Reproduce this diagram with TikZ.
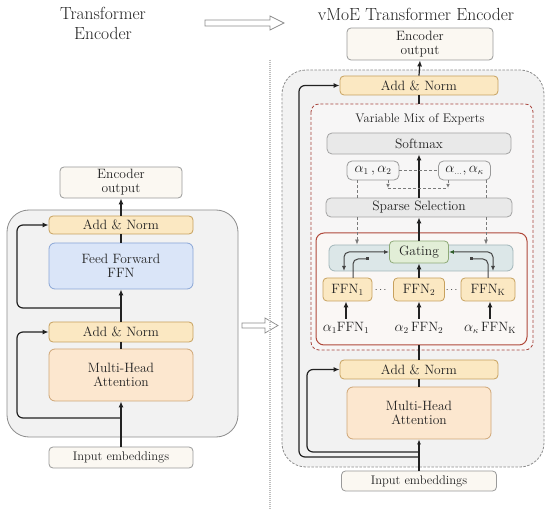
\documentclass[tikz,border=0pt]{standalone}
\usepackage{amsmath}
\usepackage{tikz}
\usetikzlibrary{arrows.meta,calc,positioning}
\definecolor{inkdark}{HTML}{222222}
\definecolor{normfill}{HTML}{FBE8C2}
\definecolor{normline}{HTML}{C7A15E}
\definecolor{mhafill}{HTML}{FCE7CF}
\definecolor{mhaline}{HTML}{CFA676}
\definecolor{ffnfill}{HTML}{DAE5F8}
\definecolor{ffnline}{HTML}{8AA6D6}
\definecolor{iofill}{HTML}{FBF8F2}
\definecolor{ioline}{HTML}{9A9A9A}
\definecolor{panelfill}{HTML}{F2F2F2}
\definecolor{panelline}{HTML}{8C8C8C}
\definecolor{softfill}{HTML}{E9E9E9}
\definecolor{softgrey}{HTML}{A3A3A3}
\definecolor{moeline}{HTML}{A8453D}
\definecolor{moefill}{HTML}{F7F6F6}
\definecolor{expline}{HTML}{B0483A}
\definecolor{expfill}{HTML}{FAF7F5}
\definecolor{bandfill}{HTML}{DCE7E8}
\definecolor{bandline}{HTML}{A2B6BA}
\definecolor{gatefill}{HTML}{E2EED7}
\definecolor{gateline}{HTML}{8EAA78}
\definecolor{gatetip}{HTML}{2F5E2A}
\definecolor{dashgrey}{HTML}{7A7A7A}
\newcommand{\lblfont}{\fontsize{13.5}{14}\selectfont}
\newcommand{\ttlfont}{\fontsize{17.5}{20}\selectfont}
\newcommand{\inpfont}{\fontsize{12.5}{14}\selectfont}

\tikzset{
  blk/.style={draw, rounded corners=4pt, line width=0.8pt, inner sep=0pt,
    align=center, font=\lblfont, text=inkdark},
  addnorm/.style={blk, draw=normline, fill=normfill, minimum width=144pt, minimum height=19pt},
  ffnbox/.style={blk, draw=ffnline, fill=ffnfill, minimum width=144pt, minimum height=46pt, rounded corners=6pt},
  mhabox/.style={blk, draw=mhaline, fill=mhafill, minimum width=144pt, minimum height=52pt, rounded corners=6pt},
  iobox/.style={blk, draw=ioline, fill=iofill},
  greybox/.style={blk, draw=softgrey, fill=softfill, minimum height=20pt, rounded corners=5pt},
  alphabox/.style={blk, draw=ioline, fill=white!60!softfill, minimum height=19pt, rounded corners=5pt},
  expert/.style={blk, draw=normline, fill=normfill, minimum height=23pt},
  bandbox/.style={draw=bandline, fill=bandfill, line width=0.8pt, rounded corners=6pt, inner sep=0pt},
  gatebox/.style={blk, draw=gateline, fill=gatefill, minimum width=59pt, minimum height=22pt},
  plain/.style={draw=inkdark, line width=1.2pt},
  flow/.style={plain, -{Latex[length=6pt,width=5pt]}},
  skip/.style={flow, rounded corners=6pt},
  gloop/.style={draw=inkdark!85, line width=1pt, rounded corners=5pt},
  dashlink/.style={draw=dashgrey, line width=0.8pt, dash pattern=on 3pt off 2pt},
  hollow/.style={draw=panelline, fill=white, line width=0.7pt, line join=miter},
}

\begin{document}
\begin{tikzpicture}[x=1pt,y=-1pt]
  \fill[white] (0,0) rectangle (550,516);
  \useasboundingbox (0,0) rectangle (550,516);

  % titles and the hollow arrows between the two halves
  \node[font=\ttlfont, text=inkdark, align=center] (ltitle) at (103,23) {Transformer\\Encoder};
  \node[font=\ttlfont, text=inkdark] (rtitle) at (416,14) {vMoE Transformer Encoder};
  \draw[hollow] (205,20) -- (270,20) -- (270,16) -- (284,23) -- (270,30) -- (270,26) -- (205,26) -- cycle;
  \draw[hollow] (242,323) -- (265,323) -- (265,318) -- (278,325.5) -- (265,333) -- (265,328) -- (242,328) -- cycle;
  \draw[draw=black!25, line width=1.2pt, dash pattern=on 1pt off 1pt] (270,60) -- (270,510);

  % left: plain encoder
  \draw[draw=panelline, fill=panelfill, line width=0.8pt, rounded corners=22pt] (7,210) rectangle (238,437);
  \node[iobox, minimum width=122pt, minimum height=31pt] (lout) at (121,182.5) {Encoder\\output};
  \node[addnorm, minimum height=18pt] (lan2) at (121,225) {Add \& Norm};
  \node[ffnbox] (lffn) at (121,266) {Feed Forward\\FFN};
  \node[addnorm, minimum height=20pt] (lan1) at (121,332) {Add \& Norm};
  \node[mhabox] (lmha) at (121,375) {Multi-Head\\Attention};
  \node[iobox, font=\inpfont, minimum width=144pt, minimum height=21pt] (lin) at (121,457.5) {Input embeddings};

  \coordinate (ljoinA) at (121,418);
  \coordinate (ljoinB) at (121,308);
  \coordinate (lbend) at (17,0);
  \draw[flow] (lin.north) -- (lmha.south);
  \draw[plain] (lmha.north) -- (lan1.south);
  \draw[flow] (lan1.north) -- (lffn.south);
  \draw[plain] (lffn.north) -- (lan2.south);
  \draw[flow] (lan2.north) -- (lout.south);
  \draw[skip] (ljoinA) -| (lbend |- lan1.west) -- (lan1.west);
  \draw[skip] (ljoinB) -| (lbend |- lan2.west) -- (lan2.west);

  % right: vMoE encoder
  \draw[draw=panelline, fill=panelfill, line width=0.8pt, dash pattern=on 2.5pt off 1.5pt, rounded corners=24pt] (282,70) rectangle (544,467);
  \draw[draw=moeline, fill=moefill, line width=0.8pt, dash pattern=on 3pt off 2pt, rounded corners=8pt] (311,104) rectangle (533,350);
  \draw[draw=expline, fill=expfill, line width=1pt, rounded corners=8pt] (316,233) rectangle (527,345);

  \node[iobox, minimum width=146pt, minimum height=32pt] (rout) at (420,44) {Encoder\\output};
  \node[addnorm, minimum width=158pt] (ran2) at (419,85.5) {Add \& Norm};
  \node[font=\fontsize{12.5}{14}\selectfont, text=inkdark] (moetitle) at (420,119) {Variable Mix of Experts};
  \node[greybox, minimum width=184pt, minimum height=21pt] (soft) at (419,143.5) {Softmax};
  \node[alphabox, minimum width=52pt] (a12) at (373,170.5) {$\alpha_1\,,\alpha_2$};
  \node[alphabox, minimum width=52pt] (aK) at (464.5,170.5) {$\alpha_{\ldots},\alpha_{\kappa}$};
  \node[greybox, minimum width=186pt, minimum height=19pt] (sparse) at (419,207.5) {Sparse Selection};
  \node[bandbox, minimum width=184pt, minimum height=26pt] (band) at (421,258) {};
  \node[gatebox] (gate) at (419,252) {Gating};
  \node[expert, minimum width=49pt] (ffn1) at (347.5,289.5) {FFN$_1$};
  \node[expert, minimum width=51pt] (ffn2) at (419,289.5) {FFN$_2$};
  \node[expert, minimum width=54pt] (ffnK) at (488,289.5) {FFN$_{\mathrm{K}}$};
  \node[text=inkdark] (dots1) at (381.5,290) {$\cdots$};
  \node[text=inkdark] (dots2) at (452.5,290) {$\cdots$};
  \node[font=\lblfont, text=inkdark] (lab1) at (346,328) {$\alpha_1$FFN$_1$};
  \node[font=\lblfont, text=inkdark] (lab2) at (419,328) {$\alpha_2$\,FFN$_2$};
  \node[font=\lblfont, text=inkdark] (labK) at (490,328) {$\alpha_\kappa$\,FFN$_{\mathrm{K}}$};
  \node[addnorm, minimum width=158pt] (ran1) at (419,369.5) {Add \& Norm};
  \node[mhabox] (rmha) at (419,413) {Multi-Head\\Attention};
  \node[iobox, font=\inpfont, minimum width=155pt, minimum height=20pt] (rin) at (419,481) {Input embeddings};

  \coordinate (moetop) at (419,104);
  \coordinate (expbot) at (419,345);
  \coordinate (rjoinA) at (419,452);
  \coordinate (rjoinB) at (419,457);
  \coordinate (rbendA) at (307,0);
  \coordinate (rbendB) at (299,0);
  \draw[flow] (ran2.north) -- (rout.south);
  \draw[plain] (ran2.south) -- (moetop);
  \draw[flow] (sparse.north) -- (soft.south);
  \draw[flow] (gate.north) -- (sparse.south);
  \draw[flow] (ffn2.north) -- (gate.south);
  \foreach \f/\l in {ffn1/lab1,ffn2/lab2,ffnK/labK}
    \draw[flow] (\l.north) -- (\l.north |- \f.south);
  \draw[plain] (ran1.north) -- (expbot);
  \draw[plain] (rmha.north) -- (ran1.south);
  \draw[plain, -{Latex[length=5pt,width=4pt]}] (rin.north) -- (rmha.south);
  \draw[skip] (rjoinB) -| (rbendB |- ran2.west) -- (ran2.west);
  \draw[skip] (rjoinA) -| (rbendA |- ran1.west) -- (ran1.west);

  % gating loops
  \coordinate (glo) at (344,271);
  \coordinate (gli) at (353,278);
  \coordinate (gdotL) at (369,259);
  \coordinate (gro) at (493,271);
  \coordinate (gri) at (488,278);
  \coordinate (gdotR) at (470,259);
  \draw[gloop, {Latex[length=5pt,width=4pt]}-{Latex[length=5pt,width=4pt]}] (glo) |- (gate.west);
  \draw[gloop, {Square[length=3pt,width=3pt]}-] (gdotL) -| (gli);
  \draw[gloop, {Latex[length=5pt,width=4pt,color=gatetip]}-{Latex[length=5pt,width=4pt]}] (gate.east) -| (gro);
  \draw[gloop, {Square[length=3pt,width=3pt]}-] (gdotR) -| (gri);

  % selection links
  \coordinate (dl) at (357,0);
  \coordinate (dr) at (486,0);
  \coordinate (il) at (388,188);
  \coordinate (ir) at (448,188);
  \draw[dashlink] (a12.east) -- (aK.west);
  \draw[dashlink] (dl |- a12.south) -- (dl |- sparse.north);
  \draw[dashlink] (dr |- aK.south) -- (dr |- sparse.north);
  \draw[dashlink, -{Latex[length=5pt,width=4pt]}] (dl |- sparse.south) -- (dl |- band.north);
  \draw[dashlink, -{Latex[length=5pt,width=4pt]}] (dr |- sparse.south) -- (dr |- band.north);
  \draw[dashlink, -{Latex[length=4pt,width=3.5pt]}] (il |- a12.south) -- (il);
  \draw[dashlink, -{Latex[length=4pt,width=3.5pt]}] (ir |- aK.south) -- (ir);
  \draw[dashlink] (il) -- (ir);
\end{tikzpicture}
\end{document}
